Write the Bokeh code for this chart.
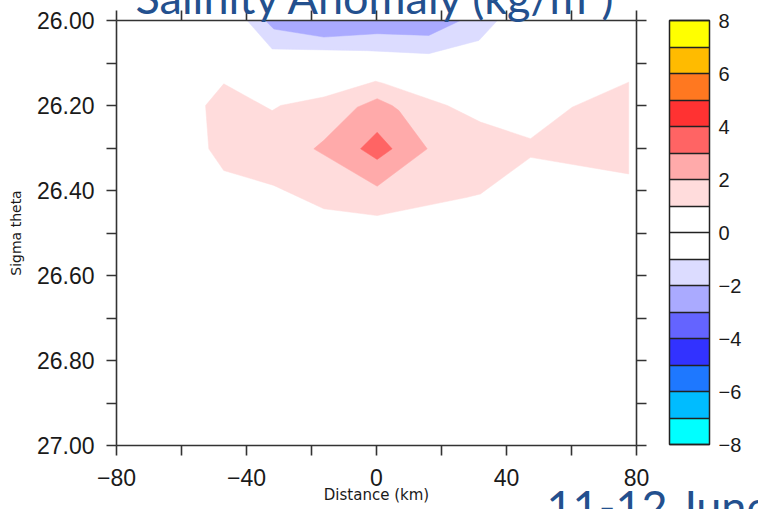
import math
from bokeh.plotting import figure
from bokeh.models import (Range1d, FixedTicker, LinearAxis, ColorBar,
                          LinearColorMapper, ColumnDataSource)
from bokeh.embed import file_html
from bokeh.resources import INLINE

# ---------------- data ----------------
x_ticks = [-80, -40, 0, 40, 80]
x_tick_labels = ["−80", "−40", "0", "40", "80"]
x_minor_ticks = [-60, -20, 20, 60]

y_ticks = [26.0, 26.2, 26.4, 26.6, 26.8, 27.0]
y_tick_labels = ["26.00", "26.20", "26.40", "26.60", "26.80", "27.00"]
y_minor_ticks = [26.1, 26.3, 26.5, 26.7, 26.9]

# contour levels (kg/m^3) and fill colour of each band [level, level+1)
levels = [-8, -7, -6, -5, -4, -3, -2, -1, 0, 1, 2, 3, 4, 5, 6, 7, 8]
level_colors = ["#00FFFF", "#00BCFF", "#1E78FF", "#3232FF", "#6464FF", "#AAAAFF",
                "#DCDCFF", "#FFFFFF", "#FFFFFF", "#FFDCDC", "#FFAAAA", "#FF6464",
                "#FF3232", "#FF7820", "#FFBB00", "#FFFF00"]
cbar_ticks = [-8, -6, -4, -2, 0, 2, 4, 6, 8]
cbar_tick_labels = ["−8", "−6", "−4", "−2", "0", "2", "4", "6", "8"]
cbar_minor_ticks = [-7, -5, -3, -1, 1, 3, 5, 7]

# filled contour bands: lower level of band, polygon (distance km, sigma-theta)
band_p1_level = 1
band_p1_x = [-52.6, -47.0, -32.1, -29.5, -16.2, -0.3, 2.2, 21.8, 32.0, 47.4, 60.2,
             77.6, 77.6, 47.4, 32.0, 27.9, 0.2, -16.2, -31.6, -47.0, -51.6]
band_p1_y = [26.200, 26.149, 26.212, 26.200, 26.180, 26.143, 26.148, 26.200, 26.239,
             26.278, 26.204, 26.145, 26.361, 26.322, 26.408, 26.416, 26.459, 26.443,
             26.388, 26.353, 26.302]

band_p2_level = 2
band_p2_x = [-19.3, -16.2, -5.9, 0.2, 4.8, 6.9, 15.6, 0.2]
band_p2_y = [26.302, 26.282, 26.204, 26.184, 26.200, 26.212, 26.302, 26.390]

band_p3_level = 3
band_p3_x = [-4.9, 0.2, 4.8, 0.2]
band_p3_y = [26.302, 26.263, 26.302, 26.327]

band_m1_level = -2
band_m1_x = [-39.8, -32.1, -2.9, 16.1, 31.5, 37.2]
band_m1_y = [26.000, 26.067, 26.071, 26.078, 26.047, 26.000]

band_m2_level = -3
band_m2_x = [-34.2, -31.6, -16.2, 0.2, 16.1, 25.8]
band_m2_y = [26.000, 26.020, 26.039, 26.031, 26.035, 26.000]

title_text = "Salinity Anomaly (kg/m³)"
date_text = "11-12 June"
x_label = "Distance (km)"
y_label = "Sigma theta"

# ---------------- figure ----------------
AXC = "#333333"
TXT = "#1a1a1a"
BLUE = "#23508E"

p = figure(width=758, height=509, x_range=Range1d(-80, 80), y_range=Range1d(27, 26),
           output_backend="svg", toolbar_location=None,
           min_border_left=116, min_border_right=122, min_border_top=20,
           min_border_bottom=64)
p.grid.visible = False
p.outline_line_color = None
p.background_fill_color = "white"
p.border_fill_color = "white"

bottom_ax = p.below[0]
left_ax = p.left[0]

bands = [(band_p1_level, band_p1_x, band_p1_y),
         (band_p2_level, band_p2_x, band_p2_y),
         (band_p3_level, band_p3_x, band_p3_y),
         (band_m1_level, band_m1_x, band_m1_y),
         (band_m2_level, band_m2_x, band_m2_y)]
src = ColumnDataSource(dict(
    xs=[b[1] for b in bands],
    ys=[b[2] for b in bands],
    color=[level_colors[levels.index(b[0])] for b in bands]))
p.patches("xs", "ys", source=src, fill_color="color", line_color="color",
          line_width=0.5)


def style_axis(ax, ticks, minor, labels=None, standoff=10):
    ax.ticker = FixedTicker(ticks=ticks, minor_ticks=minor)
    ax.axis_line_color = AXC
    ax.axis_line_width = 1.6
    ax.major_tick_line_color = AXC
    ax.minor_tick_line_color = AXC
    ax.major_tick_line_width = 1.6
    ax.minor_tick_line_width = 1.6
    ax.major_tick_in = 0
    ax.major_tick_out = 10
    ax.minor_tick_in = 0
    ax.minor_tick_out = 10
    if labels is None:
        ax.major_label_overrides = {t: "" for t in ticks}
        ax.major_label_standoff = 0
    else:
        ax.major_label_overrides = {t: l for t, l in zip(ticks, labels)}
        ax.major_label_text_font = "Liberation Sans"
        ax.major_label_text_font_size = "23px"
        ax.major_label_text_color = TXT
        ax.major_label_standoff = standoff


style_axis(bottom_ax, x_ticks, x_minor_ticks, x_tick_labels, standoff=13)
style_axis(left_ax, y_ticks, y_minor_ticks, y_tick_labels, standoff=12)
top_ax = LinearAxis()
style_axis(top_ax, x_ticks, x_minor_ticks)
p.add_layout(top_ax, "above")
right_ax = LinearAxis()
style_axis(right_ax, y_ticks, y_minor_ticks)
p.add_layout(right_ax, "right")

# axis titles
bottom_ax.axis_label = x_label
bottom_ax.axis_label_text_font = "DejaVu Sans"
bottom_ax.axis_label_text_font_size = "15px"
bottom_ax.axis_label_text_font_style = "normal"
bottom_ax.axis_label_text_color = TXT
bottom_ax.axis_label_standoff = -3
left_ax.axis_label = y_label
left_ax.axis_label_text_font = "DejaVu Sans"
left_ax.axis_label_text_font_size = "14px"
left_ax.axis_label_text_font_style = "normal"
left_ax.axis_label_text_color = TXT
left_ax.axis_label_standoff = 10

# colour bar
mapper = LinearColorMapper(palette=level_colors, low=levels[0], high=levels[-1])
cb = ColorBar(color_mapper=mapper, orientation="vertical", width=40, height=424,
              location=(553, 1), padding=0, margin=0,
              ticker=FixedTicker(ticks=cbar_ticks, minor_ticks=cbar_minor_ticks),
              major_label_overrides={t: l for t, l in zip(cbar_ticks, cbar_tick_labels)},
              major_label_text_font="Liberation Sans", major_label_text_font_size="20px",
              major_label_text_color=TXT, label_standoff=9,
              major_tick_in=40, major_tick_out=0, minor_tick_in=40, minor_tick_out=0,
              major_tick_line_color="#222222", minor_tick_line_color="#222222",
              major_tick_line_width=1.5, minor_tick_line_width=1.5,
              bar_line_color="#222222", bar_line_width=1.5,
              background_fill_color=None, border_line_color=None)
p.add_layout(cb)


# slide texts that overhang the picture edges: drawn as titles of empty
# (invisible) colour-bar boxes, which are not clipped to the plot frame
def slide_text(text, loc):
    cm = LinearColorMapper(palette=["#FFFFFF"], low=0, high=1)
    return ColorBar(color_mapper=cm, orientation="horizontal", width=1, height=1,
                    location=loc, padding=0, margin=0, scale_alpha=0,
                    bar_line_color=None, ticker=FixedTicker(ticks=[]),
                    major_tick_out=0, minor_tick_out=0, major_tick_in=0,
                    minor_tick_in=0, label_standoff=0,
                    major_tick_line_color=None, minor_tick_line_color=None,
                    title=text, title_text_font="Lato", title_text_font_size="45px",
                    title_text_font_style="normal", title_text_color=BLUE,
                    title_standoff=0, background_fill_color=None,
                    border_line_color=None)


p.add_layout(slide_text(title_text, (19, 421)))
p.add_layout(slide_text(date_text, (430, -88)))

open("out.html", "w").write(file_html(p, INLINE))
